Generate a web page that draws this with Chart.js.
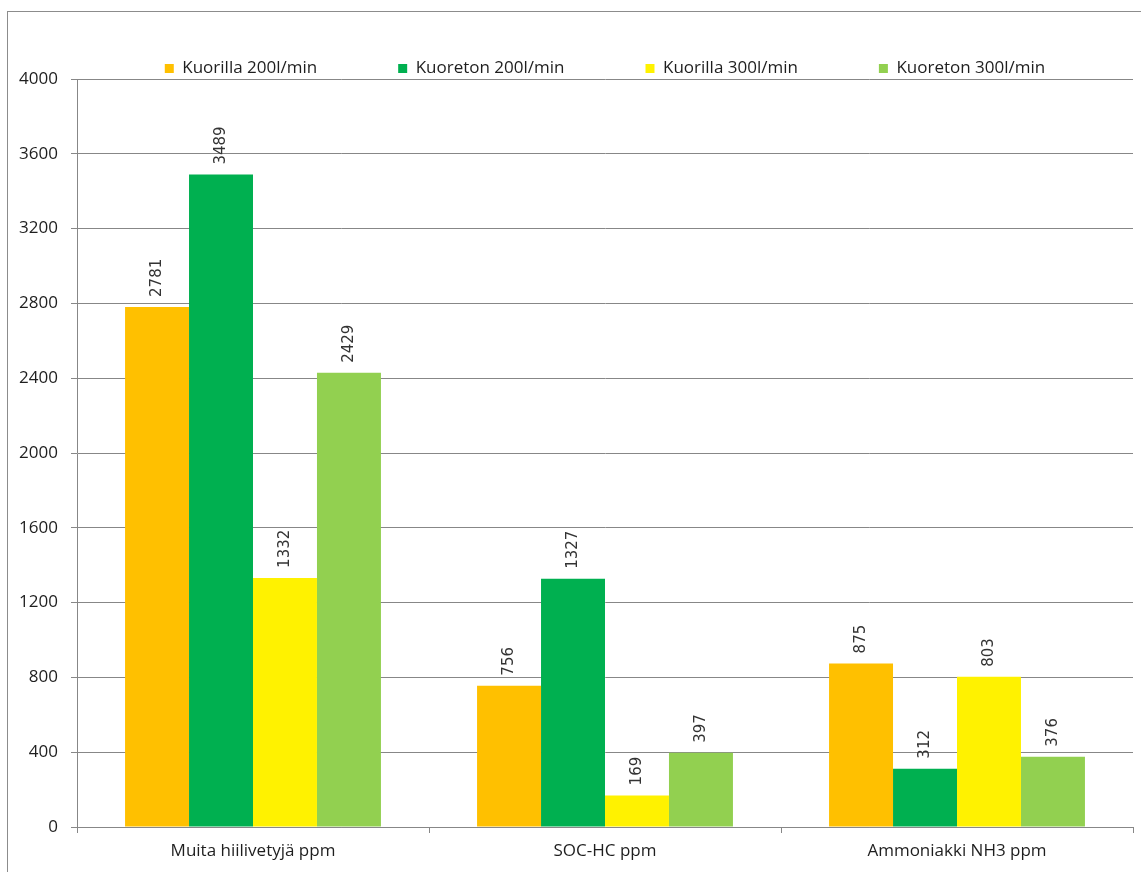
<!DOCTYPE html>
<html>
<head>
<meta charset="utf-8">
<script src="https://cdn.jsdelivr.net/npm/chart.js@4"></script>
<style>
  html, body { margin: 0; padding: 0; background: #fff; overflow: hidden; }
  #kehys { position: absolute; left: 7px; top: 11px; width: 1200px; height: 900px; border: 1px solid #8c8c8c; }
  #alue { position: absolute; left: 0; top: -21px; width: 1141px; height: 893px; }
</style>
</head>
<body>
<div id="kehys"></div>
<div id="alue"><canvas id="GraficoPpm" width="1141" height="893"></canvas></div>
<script>
'use strict'

const kategoriat = ['Muita hiilivetyjä ppm', 'SOC-HC ppm', 'Ammoniakki NH3 ppm'];
const sarjat = ['Kuorilla 200l/min', 'Kuoreton 200l/min', 'Kuorilla 300l/min', 'Kuoreton 300l/min'];
const kuorilla200 = [2781, 756, 875];
const kuoreton200 = [3489, 1327, 312];
const kuorilla300 = [1332, 169, 803];
const kuoreton300 = [2429, 397, 376];
const yTicks = [0, 400, 800, 1200, 1600, 2000, 2400, 2800, 3200, 3600, 4000];

const varit = ['#FFC000', '#00B050', '#FFF200', '#92D050'];
const viiva = '#878787';
const teksti = '#1e1e1e';
const fontti = { family: 'Open Sans', size: 17 };

const canvas = document.querySelector('#GraficoPpm');

// arvot pystyyn pylväiden yläpuolelle
const arvoTekstit = {
  id: 'arvoTekstit',
  afterDatasetsDraw(chart) {
    const ctx = chart.ctx;
    ctx.save();
    ctx.font = '15px "DejaVu Sans"';
    ctx.fillStyle = '#333';
    ctx.textAlign = 'left';
    ctx.textBaseline = 'middle';
    chart.data.datasets.forEach((ds, i) => {
      chart.getDatasetMeta(i).data.forEach((bar, j) => {
        ctx.save();
        ctx.translate(bar.x, bar.y - 10);
        ctx.rotate(-Math.PI / 2);
        ctx.fillText(String(ds.data[j]), 0, 0);
        ctx.restore();
      });
    });
    ctx.restore();
  }
};

const data = {
  labels: kategoriat,
  datasets: [kuorilla200, kuoreton200, kuorilla300, kuoreton300].map((arvot, i) => ({
    label: sarjat[i],
    data: arvot,
    backgroundColor: varit[i],
    borderWidth: 0,
    categoryPercentage: 0.727,
    barPercentage: 1
  }))
};

const config = {
  type: 'bar',
  data: data,
  options: {
    responsive: false,
    animation: false,
    layout: { padding: { top: 0, right: 8, bottom: 0, left: 0 } },
    plugins: {
      tooltip: { enabled: false },
      legend: {
        position: 'top',
        fullSize: false,
        maxHeight: 100,
        labels: {
          font: fontti,
          color: teksti,
          boxWidth: 9,
          boxHeight: 9,
          padding: 81
        }
      }
    },
    scales: {
      x: {
        grid: { drawOnChartArea: false, color: viiva, tickLength: 6 },
        border: { color: viiva },
        ticks: { font: fontti, color: teksti, padding: 8, maxRotation: 0 },
        afterFit: s => { s.height = 45; }
      },
      y: {
        min: 0,
        max: 4000,
        afterBuildTicks: s => { s.ticks = yTicks.map(v => ({ value: v })); },
        grid: { color: viiva, tickLength: 6 },
        border: { color: viiva },
        ticks: { font: fontti, color: teksti, padding: 13, callback: v => String(v) },
        afterFit: s => { s.width = 77; }
      }
    }
  },
  plugins: [arvoTekstit]
};

const GraficoPpm = new Chart(canvas, config);
</script>
</body>
</html>
